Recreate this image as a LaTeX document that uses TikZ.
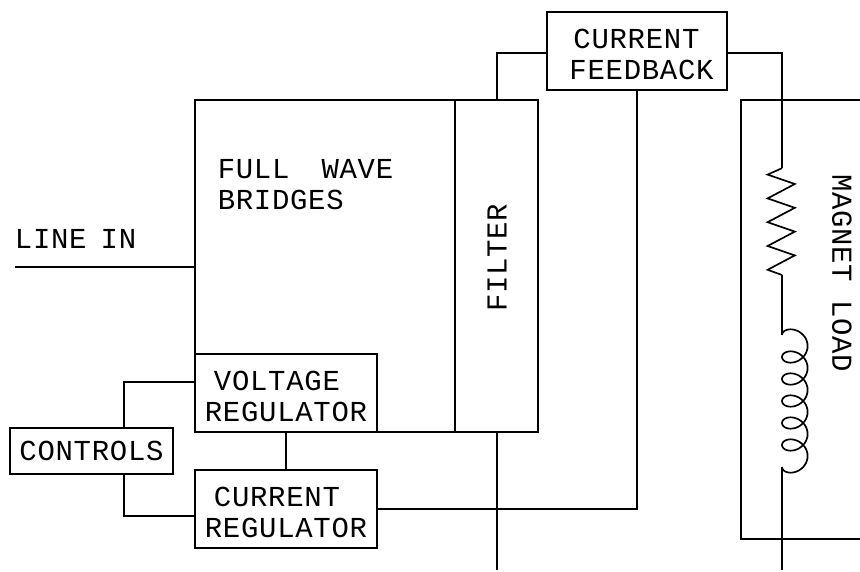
\documentclass[tikz,border=0pt]{standalone}
\usepackage{fontspec}
\usepackage{tikz}
\newfontfamily\cadfont[LetterSpace=2.5]{Liberation Mono}
\newcommand{\toppad}{\rule{0pt}{19pt}}
\tikzset{
  block/.style={rectangle, draw=black, inner sep=0pt,
    minimum width=4.55cm, minimum height=1.95cm, align=left,
    font=\cadfont\fontsize{20.6}{22}\selectfont, line width=1.2pt},
  cadtext/.style={inner sep=0pt, align=left,
    font=\cadfont\fontsize{20.6}{22}\selectfont},
  wire/.style={line width=1.2pt, color=black}
}
\begin{document}
\begin{tikzpicture}
  \useasboundingbox (0,0) rectangle (21.5,14.275);

  \node[block, minimum width=6.5cm, minimum height=8.3cm] (bridges) at (8.125,7.625) {};
  \node[block, minimum width=2.075cm, minimum height=8.3cm] (filter) at (12.4125,7.625) {};
  \node[block] (vreg) at (7.15,4.45) {\toppad\hspace*{0.225cm}VOLTAGE\\REGULATOR};
  \node[block] (creg) at (7.15,1.55) {\toppad\hspace*{0.225cm}CURRENT\\REGULATOR};
  \node[block, minimum width=4.075cm, minimum height=1.15cm] (controls) at (2.2875,3.0) {CONTROLS};
  \node[block, minimum width=4.5cm] (feedback) at (15.925,13) {\toppad\hspace*{0.325cm}CURRENT\\\hspace*{0.225cm}FEEDBACK};

  \node[cadtext] (bridgestxt) at (7.6375,9.65) {FULL\hspace{0.35cm} WAVE\\BRIDGES};
  \node[cadtext] (lineintxt) at (1.89,8.3) {LINE\hspace{-0.1cm} IN};
  \node[cadtext, rotate=90] (filtertxt) at (12.425,7.825) {FILTER};
  \node[cadtext, rotate=-90] (magnettxt) at (21.05,7.45) {MAGNET LOAD};

  \coordinate (linein) at (0.375,7.6);
  \coordinate (ctlup) at (3.1,4.725);
  \coordinate (ctldown) at (3.1,1.375);
  \coordinate (fbleft) at (12.425,12.95);
  \coordinate (fbright) at (19.55,12.95);
  \coordinate (restop) at (19.55,10.07);
  \coordinate (resbot) at (19.55,7.4);
  \coordinate (indtop) at (19.55,5.9);
  \coordinate (indbot) at (19.55,2.6);
  \coordinate (filterout) at (12.425,0.025);
  \coordinate (loadout) at (19.55,0.025);
  \coordinate (magtop) at (21.5,11.775);
  \coordinate (magbot) at (21.5,0.8);
  \coordinate (magleft) at (18.525,0);

  \draw[wire] (linein) -- (linein -| bridges.west);
  \draw[wire] (vreg.west |- ctlup) -- (ctlup) -- (ctlup |- controls.north);
  \draw[wire] (creg.west |- ctldown) -- (ctldown) -- (ctldown |- controls.south);
  \draw[wire] (vreg.south) -- (creg.north);
  \draw[wire] (creg.east) -| (feedback.south);
  \draw[wire] (feedback.west |- fbleft) -- (fbleft) -- (fbleft |- filter.north);
  \draw[wire] (filterout |- filter.south) -- (filterout);

  % magnet load
  \draw[wire] (magtop) -- (magtop -| magleft) -- (magbot -| magleft) -- (magbot);
  \draw[wire] (feedback.east |- fbright) -- (fbright) -- (restop);
  \draw[wire] (restop) -- ++(-0.36,-0.16)
    \foreach \n in {1,...,4}{ -- ++(0.68,-0.235) -- ++(-0.68,-0.36) } -- (resbot);
  \draw[wire] (resbot) -- (indtop);
  \draw[wire] plot[domain=0:2160, samples=217, smooth]
    ({19.87-0.32*cos(\x)},{5.9+0.265*sin(\x)-0.55*\x/360});
  \draw[wire] (indbot) -- (loadout);
\end{tikzpicture}
\end{document}
